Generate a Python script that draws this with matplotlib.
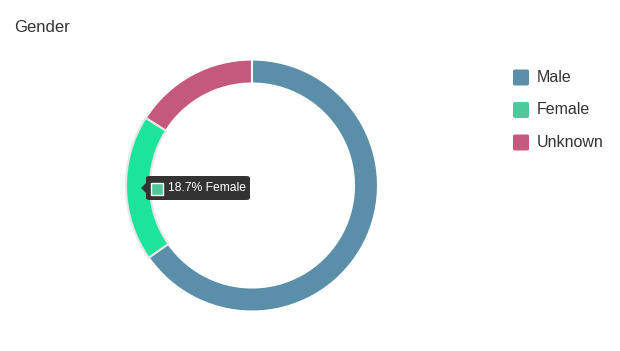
import matplotlib.pyplot as plt
from matplotlib.patches import FancyBboxPatch, Polygon, Rectangle

labels = ['Male', 'Female', 'Unknown']
shares = [65.3, 18.7, 16.0]
colors = ['#5b8fa9', '#4fc89c', '#c5587d']
hover_color = '#1de49b'
hovered = 1

W, H = 620, 351
fig = plt.figure(figsize=(W / 100, H / 100), dpi=100)
fig.patch.set_facecolor('white')
plt.rcParams['font.family'] = ['Liberation Sans', 'DejaVu Sans']

# donut: centre (252, 185.5) px, outer radius 126 px
cx, cy, r = 252, 185.5, 126
ax = fig.add_axes([(cx - r) / W, (H - cy - r) / H, 2 * r / W, 2 * r / H])
slice_colors = [hover_color if i == hovered else c for i, c in enumerate(colors)]
wedges, _ = ax.pie(shares, colors=slice_colors, startangle=90, counterclock=False,
                   radius=1, wedgeprops=dict(width=24 / 126, edgecolor='white', linewidth=1.5))
wedges[hovered].set_edgecolor('#e6e6e6')
wedges[hovered].set_zorder(3)
ax.set_xlim(-1, 1)
ax.set_ylim(-1, 1)
ax.set_aspect('equal')
ax.axis('off')


def px(x, y):
    return x / W, 1 - y / H


# title
fig.text(*px(14, 27), 'Gender', fontsize=12, color='#333333', va='center', ha='left')

# legend
for i, lab in enumerate(labels):
    yc = 77.5 + i * 32.5
    x0, y0 = px(513, yc + 8)
    fig.patches.append(FancyBboxPatch((x0, y0), 16 / W, 16 / H,
                                      boxstyle='round,pad=0,rounding_size=0.004',
                                      transform=fig.transFigure, facecolor=colors[i],
                                      edgecolor='none'))
    fig.text(*px(537, yc), lab, fontsize=11.5, color='#333333', va='center', ha='left')

# tooltip
bx0, by0 = px(146, 200)
fig.patches.append(FancyBboxPatch((bx0, by0), 104 / W, 24 / H,
                                  boxstyle='round,pad=0,rounding_size=0.006',
                                  transform=fig.transFigure, facecolor='#333333',
                                  edgecolor='none', zorder=5))
fig.patches.append(Polygon([px(141, 188), px(147, 182), px(147, 194)], closed=True,
                           transform=fig.transFigure, facecolor='#333333',
                           edgecolor='none', zorder=5))
sx, sy = px(150.5, 195.5)
fig.patches.append(Rectangle((sx, sy), 12 / W, 12 / H, transform=fig.transFigure,
                             facecolor=colors[hovered], edgecolor='white',
                             linewidth=1, zorder=6))
fig.text(*px(168, 188), f'{shares[hovered]}% {labels[hovered]}', fontsize=8.7,
         color='white', va='center', ha='left', zorder=7)

fig.savefig('out.png', dpi=100)
